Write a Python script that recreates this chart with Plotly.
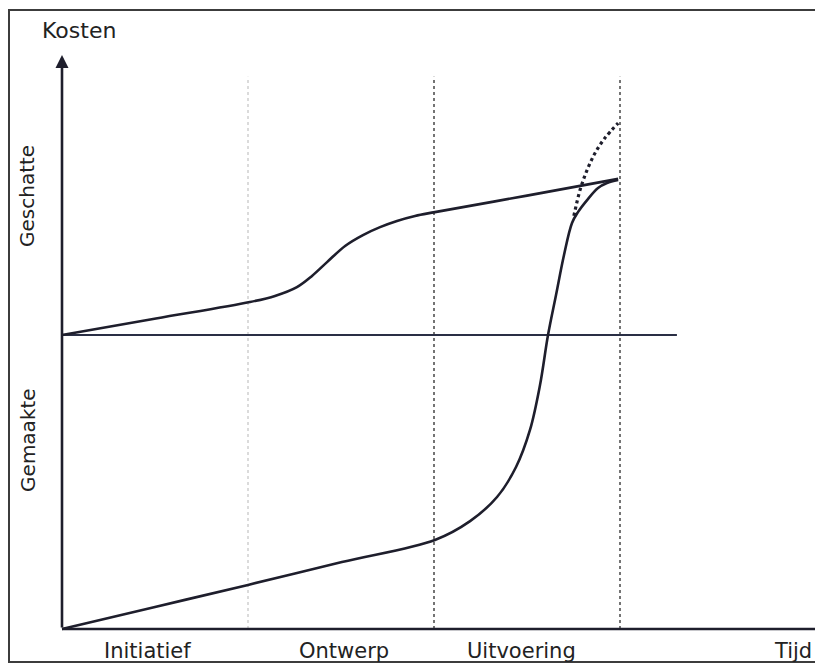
import plotly.graph_objects as go

# ---------------- data (time in phase units, cost in relative units) ----------------
phase_labels = ["Initiatief", "Ontwerp", "Uitvoering"]
phase_bounds = [1.0, 2.0, 3.0]
phase_label_t = [0.462, 1.516, 2.473]

# estimated (geschatte) costs
est_t = [0.0, 0.505, 1.01, 1.145, 1.263, 1.344, 1.425, 1.522, 1.618, 1.71,
         1.801, 1.898, 2.005, 2.5, 2.99]
est_c = [100.0, 105.6, 111.2, 113.3, 116.3, 120.1, 124.8, 130.3, 134.0, 136.7,
         138.8, 140.5, 141.8, 147.4, 153.1]

# incurred (gemaakte) costs
act_t = [0.0, 0.5, 1.0, 1.505, 2.005, 2.194, 2.339, 2.441, 2.516, 2.57,
         2.613, 2.656, 2.699, 2.742, 2.774, 2.823, 2.882, 2.93, 2.99]
act_c = [0.0, 7.5, 15.0, 22.8, 30.3, 36.7, 44.9, 55.1, 67.7, 83.0,
         100.0, 113.6, 127.2, 138.1, 141.8, 145.9, 150.0, 151.7, 152.7]

# possible overrun (dotted)
over_t = [2.752, 2.785, 2.823, 2.866, 2.919, 2.99]
over_c = [140.5, 149.3, 156.1, 161.9, 167.0, 172.1]

baseline_c = 100.0
baseline_end_t = 3.306
axis_top_c = 195.2
vline_top_c = 187.8

# ---------------- figure ----------------
INK = "#1e1e2c"
fig = go.Figure()

# phase separators
vcolors = ["#c4c4c4", "#3a3a3a", "#3a3a3a"]
vwidths = [1.2, 1.4, 1.4]
for b, col, w in zip(phase_bounds, vcolors, vwidths):
    fig.add_trace(go.Scatter(x=[b, b], y=[0, vline_top_c], mode="lines",
                             line=dict(color=col, width=w, dash="dot"),
                             hoverinfo="skip"))

# x axis line
fig.add_trace(go.Scatter(x=[0, 4.3], y=[0, 0], mode="lines",
                         line=dict(color=INK, width=2.6), hoverinfo="skip",
                         cliponaxis=False))
# middle horizontal line
fig.add_trace(go.Scatter(x=[0, baseline_end_t], y=[baseline_c, baseline_c], mode="lines",
                         line=dict(color="#2a2f45", width=2), hoverinfo="skip"))

# curves
fig.add_trace(go.Scatter(x=est_t, y=est_c, mode="lines",
                         line=dict(color=INK, width=2.6, shape="spline", smoothing=1.0),
                         hoverinfo="skip"))
fig.add_trace(go.Scatter(x=act_t, y=act_c, mode="lines",
                         line=dict(color=INK, width=2.6, shape="spline", smoothing=1.0),
                         hoverinfo="skip"))
fig.add_trace(go.Scatter(x=over_t, y=over_c, mode="lines",
                         line=dict(color=INK, width=3.2, shape="spline", dash="dot"),
                         hoverinfo="skip"))

# y axis with arrow
fig.add_annotation(x=0, y=axis_top_c, ax=0, ay=0, axref="x", ayref="y",
                   xref="x", yref="y", showarrow=True, arrowhead=2,
                   arrowsize=1, arrowwidth=2.6, arrowcolor=INK, text="")

FONT = "DejaVu Sans"
fig.add_annotation(x=0.091, y=203.7, xref="x", yref="y", text="Kosten",
                   showarrow=False, font=dict(family=FONT, size=22, color="#222"),
                   xanchor="center", yanchor="middle")
fig.add_annotation(x=-0.188, y=147.3, xref="x", yref="y", text="Geschatte",
                   textangle=-90, showarrow=False,
                   font=dict(family=FONT, size=20, color="#222"),
                   xanchor="center", yanchor="middle")
fig.add_annotation(x=-0.183, y=64.3, xref="x", yref="y", text="Gemaakte",
                   textangle=-90, showarrow=False,
                   font=dict(family=FONT, size=20, color="#222"),
                   xanchor="center", yanchor="middle")
for lab, t in zip(phase_labels, phase_label_t):
    fig.add_annotation(x=t, y=-7.5, xref="x", yref="y", text=lab, showarrow=False,
                       font=dict(family=FONT, size=21, color="#222"),
                       xanchor="center", yanchor="middle")
fig.add_annotation(x=1.0, y=-7.5, xref="paper", yref="y", text="Tijd", showarrow=False,
                   font=dict(family=FONT, size=21, color="#222"),
                   xanchor="right", yanchor="middle", xshift=-1)

# outer frame
fig.add_shape(type="rect", xref="paper", yref="paper",
              x0=9 / 815, x1=1.05, y0=1 - 662 / 664, y1=1 - 10 / 664,
              line=dict(color="#3c3c3c", width=2), layer="below")

fig.update_layout(
    width=815, height=664,
    margin=dict(l=0, r=0, t=0, b=0),
    paper_bgcolor="white", plot_bgcolor="white",
    showlegend=False,
    xaxis=dict(range=[-62 / 186, 753 / 186], visible=False, fixedrange=True),
    yaxis=dict(range=[-35 / 2.94, 629 / 2.94], visible=False, fixedrange=True),
)

fig.write_html(
    "out.html",
    config={"displayModeBar": False},
    post_script="document.body.style.margin='0';document.body.style.overflow='hidden';",
)
